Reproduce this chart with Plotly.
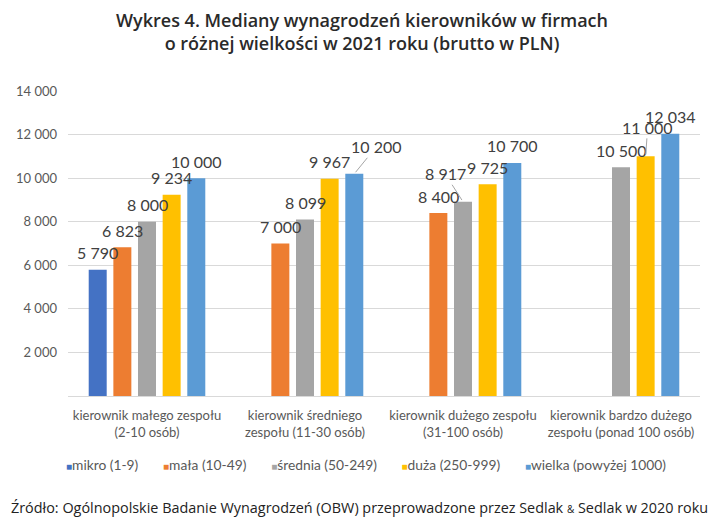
import plotly.graph_objects as go

categories = ["kierownik małego zespołu<br>(2-10 osób)",
              "kierownik średniego<br>zespołu (11-30 osób)",
              "kierownik dużego zespołu<br>(31-100 osób)",
              "kierownik bardzo dużego<br>zespołu (ponad 100 osób)"]
series_names = ["mikro (1-9)", "mała (10-49)", "średnia (50-249)", "duża (250-999)", "wielka (powyżej 1000)"]
mikro = [5790, None, None, None]
mala = [6823, 7000, 8400, None]
srednia = [8000, 8099, 8917, 10500]
duza = [9234, 9967, 9725, 11000]
wielka = [10000, 10200, 10700, 12034]
series_values = [mikro, mala, srednia, duza, wielka]
colors = ["#4472C4", "#ED7D31", "#A5A5A5", "#FFC000", "#5B9BD5"]
y_ticks = [2000, 4000, 6000, 8000, 10000, 12000, 14000]
y_tick_labels = ["2 000", "4 000", "6 000", "8 000", "10 000", "12 000", "14 000"]

# labels moved with leader lines: (series index, category index) -> (ax, ay)
leader = {(4, 1): (22, -27), (2, 2): (-18, -28), (3, 3): (2, -29)}

BARGAP = 0.22
slot = (1 - BARGAP) / 5

def fmt(v):
    return f"{v:,}".replace(",", " ")

fig = go.Figure()
for name, vals, col in zip(series_names, series_values, colors):
    fig.add_trace(go.Bar(name=name, x=list(range(4)), y=vals, marker_color=col,
                         marker_line_width=0, showlegend=False))

label_font = dict(family="Lato", size=16, color="#404040")
annotations = []
for si, vals in enumerate(series_values):
    for ci, v in enumerate(vals):
        if v is None:
            continue
        xpos = ci + (si - 2) * slot
        if (si, ci) in leader:
            ax, ay = leader[(si, ci)]
            annotations.append(dict(x=xpos, y=v, xref="x", yref="y", text=fmt(v),
                                    showarrow=True, arrowhead=0, arrowwidth=1,
                                    arrowcolor="#A6A6A6", ax=ax, ay=ay, standoff=2,
                                    font=label_font))
        else:
            annotations.append(dict(x=xpos, y=v, xref="x", yref="y", text=fmt(v),
                                    showarrow=False, yshift=17, font=label_font))

# legend drawn as a single line of text with coloured squares
legend_parts = [f"<span style='color:{c};font-size:10px'>■</span>{n}"
                for n, c in zip(series_names, colors)]
annotations.append(dict(
    x=0.4715, y=-0.223, xref="paper", yref="paper", xanchor="center", yanchor="middle",
    showarrow=False, text="       ".join(legend_parts),
    font=dict(family="Lato", size=13.8, color="#595959")))

annotations.append(dict(
    x=0.462, y=-0.364, xref="paper", yref="paper", xanchor="center", yanchor="middle",
    showarrow=False,
    text="Źródło: Ogólnopolskie Badanie Wynagrodzeń (OBW) przeprowadzone przez Sedlak <span style='font-size:10px'>&</span> Sedlak w 2020 roku",
    font=dict(family="Open Sans", size=14.4, color="#222222")))

# page body has an 8px margin: figure is 708x512 so it ends at the window edge
fig.update_layout(
    width=708, height=512,
    margin=dict(l=60, r=16, t=83, b=124, autoexpand=False),
    paper_bgcolor="white", plot_bgcolor="white",
    barmode="group", bargap=BARGAP, bargroupgap=0.27,
    title=dict(text="Wykres 4. Mediany wynagrodzeń kierowników w firmach<br>o różnej wielkości w 2021 roku (brutto w PLN)",
               x=0.5, xanchor="center", y=0.963, yanchor="middle",
               font=dict(family="Open Sans", size=18, color="#2a2a2a", weight=600)),
    xaxis=dict(tickmode="array", tickvals=list(range(4)), ticktext=categories,
               range=[-0.5, 3.5], showgrid=False, showline=True, linecolor="#D9D9D9",
               linewidth=1, ticks="", automargin=False, ticklabelstandoff=7,
               tickfont=dict(family="Lato", size=13, color="#595959")),
    yaxis=dict(range=[0, 14000], tickmode="array", tickvals=y_ticks, ticktext=y_tick_labels,
               showgrid=True, gridcolor="#D9D9D9", gridwidth=1, zeroline=False,
               showline=False, ticks="", ticklabelstandoff=10, automargin=False,
               tickfont=dict(family="Lato", size=13, color="#595959")),
    annotations=annotations,
    showlegend=False,
)
fig.write_html("out.html")
